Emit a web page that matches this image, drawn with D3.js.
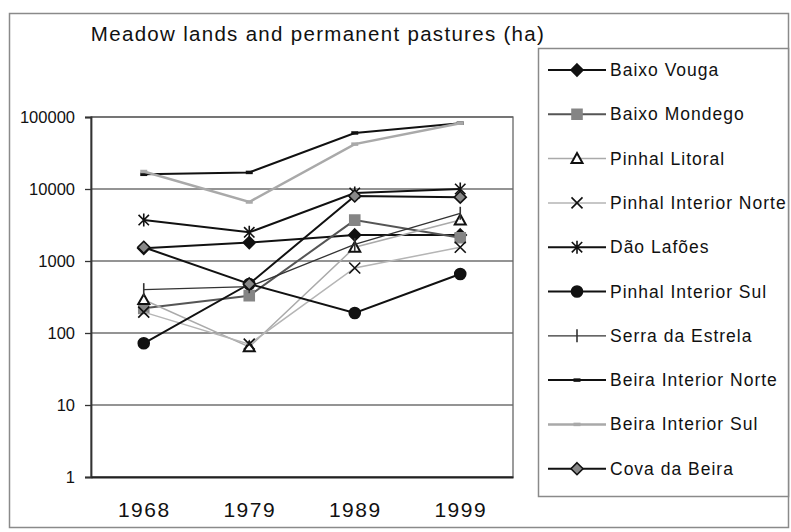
<!DOCTYPE html>
<html lang="en">
<head>
<meta charset="UTF-8" />
<title>Meadow lands and permanent pastures</title>
<style>
  body { margin: 0; background: #fff; }
  svg text { font-family: "Liberation Sans", Arial, sans-serif; fill: #111; }
</style>
</head>
<body>
<svg width="791" height="532"></svg>
<script src="https://d3js.org/d3.v7.min.js"></script>
<script>
  // data (hectares, log scale)
  const years = ["1968", "1979", "1989", "1999"];
  const regions = [
    "Baixo Vouga", "Baixo Mondego", "Pinhal Litoral", "Pinhal Interior Norte",
    "Dão Lafões", "Pinhal Interior Sul", "Serra da Estrela",
    "Beira Interior Norte", "Beira Interior Sul", "Cova da Beira"
  ];
  const baixoVouga = [1500, 1800, 2300, 2300];
  const baixoMondego = [220, 330, 3700, 2100];
  const pinhalLitoral = [290, 64, 1550, 3700];
  const pinhalInteriorNorte = [195, 70, 800, 1550];
  const daoLafoes = [3700, 2500, 8800, 10000];
  const pinhalInteriorSul = [72, 480, 190, 660];
  const serraEstrela = [400, 440, 1700, 4600];
  const beiraInteriorNorte = [16000, 17000, 60000, 82000];
  const beiraInteriorSul = [17500, 6600, 42000, 82000];
  const covaBeira = [1550, 480, 8000, 7700];
  const yTicks = [1, 10, 100, 1000, 10000, 100000];

  const values = [
    baixoVouga, baixoMondego, pinhalLitoral, pinhalInteriorNorte, daoLafoes,
    pinhalInteriorSul, serraEstrela, beiraInteriorNorte, beiraInteriorSul, covaBeira
  ];
  const series = regions.map((name, i) => ({ name, values: values[i] }));

  // look of each series
  const styles = [
    { line: "#111", w: 2, marker: "diamond", fill: "#111", ms: "#111", size: 12 },
    { line: "#555", w: 2, marker: "square", fill: "#858585", ms: "#858585", size: 10 },
    { line: "#aaa", w: 1.5, marker: "triangle", fill: "#fff", ms: "#111", size: 11 },
    { line: "#b5b5b5", w: 1.5, marker: "x", fill: "none", ms: "#111", size: 11 },
    { line: "#111", w: 2, marker: "asterisk", fill: "none", ms: "#111", size: 13 },
    { line: "#111", w: 2, marker: "circle", fill: "#111", ms: "#111", size: 11 },
    { line: "#333", w: 1.3, marker: "tick", fill: "none", ms: "#333", size: 13 },
    { line: "#111", w: 2, marker: "dash", fill: "none", ms: "#111", size: 7 },
    { line: "#a9a9a9", w: 2.5, marker: "dash", fill: "none", ms: "#a9a9a9", size: 7 },
    { line: "#111", w: 2, marker: "diamond", fill: "#888", ms: "#111", size: 12 }
  ];

  function markerPath(type, s) {
    const h = s / 2;
    switch (type) {
      case "diamond": return `M0,${-h}L${h},0L0,${h}L${-h},0Z`;
      case "square": return `M${-h},${-h}H${h}V${h}H${-h}Z`;
      case "triangle": return `M0,${-h}L${h},${h * 0.8}L${-h},${h * 0.8}Z`;
      case "circle": return d3.symbol(d3.symbolCircle, Math.PI * h * h)();
      case "x": return `M${-h},${-h}L${h},${h}M${-h},${h}L${h},${-h}`;
      case "asterisk": {
        const k = h * 0.8;
        return `M${-k},${-k}L${k},${k}M${-k},${k}L${k},${-k}M0,${-h}L0,${h}`;
      }
      case "tick": return `M0,${-h}L0,${h}`;
      case "dash": return `M${-h},0L${h},0`;
    }
  }

  function markerAttrs(sel, st) {
    const filled = ["diamond", "square", "triangle", "circle"].includes(st.marker);
    sel.attr("d", markerPath(st.marker, st.size))
      .attr("fill", filled ? st.fill : "none")
      .attr("stroke", st.ms)
      .attr("stroke-width", st.marker === "dash" ? 3.5 : (st.marker === "triangle" ? 2 : 1.6))
      .attr("stroke-linejoin", "miter");
  }

  const svg = d3.select("svg");
  const plot = { left: 91, right: 513, top: 117, bottom: 477 };

  // chart frame
  svg.append("rect")
    .attr("x", 9.5).attr("y", 13.5).attr("width", 779).attr("height", 514)
    .attr("fill", "#fff").attr("stroke", "#8a8a8a").attr("stroke-width", 1.5);

  const x = d3.scalePoint().domain(years).range([plot.left, plot.right]).padding(0.5);
  const y = d3.scaleLog().domain([1, 100000]).range([plot.bottom, plot.top]);

  // gridlines
  svg.append("g")
    .selectAll("line")
    .data(yTicks)
    .join("line")
    .attr("x1", plot.left).attr("x2", plot.right)
    .attr("y1", d => y(d)).attr("y2", d => y(d))
    .attr("stroke", "#707070").attr("stroke-width", 1.3);

  // plot area border
  svg.append("rect")
    .attr("x", plot.left).attr("y", plot.top)
    .attr("width", plot.right - plot.left).attr("height", plot.bottom - plot.top)
    .attr("fill", "none").attr("stroke", "#666").attr("stroke-width", 1.3);

  // y axis
  const yAxis = d3.axisLeft(y).tickValues(yTicks).tickFormat(d3.format("d")).tickSize(6).tickPadding(10);
  const gy = svg.append("g").attr("transform", `translate(${plot.left},0)`).call(yAxis);
  gy.select(".domain").attr("stroke", "#333").attr("stroke-width", 1.8);
  gy.selectAll(".tick line").attr("stroke", "#333").attr("stroke-width", 1.3);
  gy.selectAll(".tick text")
    .attr("font-size", 16.5).attr("fill", "#111")
    .style("font-family", "'Liberation Sans', Arial, sans-serif");

  // x axis
  const xAxis = d3.axisBottom(x).tickSize(0).tickPadding(25);
  const gx = svg.append("g").attr("transform", `translate(0,${plot.bottom})`).call(xAxis);
  gx.select(".domain").attr("stroke", "#222").attr("stroke-width", 2);
  gx.selectAll(".tick text")
    .attr("font-size", 21).attr("fill", "#111")
    .attr("letter-spacing", 1.5)
    .style("font-family", "'Liberation Sans', Arial, sans-serif");

  // series
  const line = d3.line().x((d, i) => x(years[i])).y(d => y(d));
  series.forEach((s, i) => {
    const st = styles[i];
    const g = svg.append("g").attr("class", "series");
    g.append("path")
      .attr("d", line(s.values))
      .attr("fill", "none")
      .attr("stroke", st.line)
      .attr("stroke-width", st.w);
    g.selectAll("path.mk")
      .data(s.values)
      .join("path")
      .attr("class", "mk")
      .attr("transform", (d, j) => `translate(${x(years[j])},${y(d)})`)
      .call(markerAttrs, st);
  });

  // title
  svg.append("text")
    .attr("x", 318).attr("y", 41)
    .attr("text-anchor", "middle")
    .attr("font-size", 20.5)
    .attr("letter-spacing", 1.3)
    .text("Meadow lands and permanent pastures (ha)");

  // legend
  svg.append("rect")
    .attr("x", 538.5).attr("y", 48.5).attr("width", 250).attr("height", 448)
    .attr("fill", "#fff").attr("stroke", "#8a8a8a").attr("stroke-width", 1.5);

  const legend = svg.append("g");
  const rowH = 44.3;
  series.forEach((s, i) => {
    const st = styles[i];
    const cy = 70 + i * rowH;
    const row = legend.append("g").attr("transform", `translate(0,${cy})`);
    row.append("line")
      .attr("x1", 548).attr("x2", 606).attr("y1", 0).attr("y2", 0)
      .attr("stroke", st.line).attr("stroke-width", st.w);
    row.append("path")
      .attr("transform", "translate(577,0)")
      .call(markerAttrs, st);
    row.append("text")
      .attr("x", 610).attr("y", 6)
      .attr("font-size", 17.5)
      .attr("letter-spacing", 1)
      .text(s.name);
  });
</script>
</body>
</html>
